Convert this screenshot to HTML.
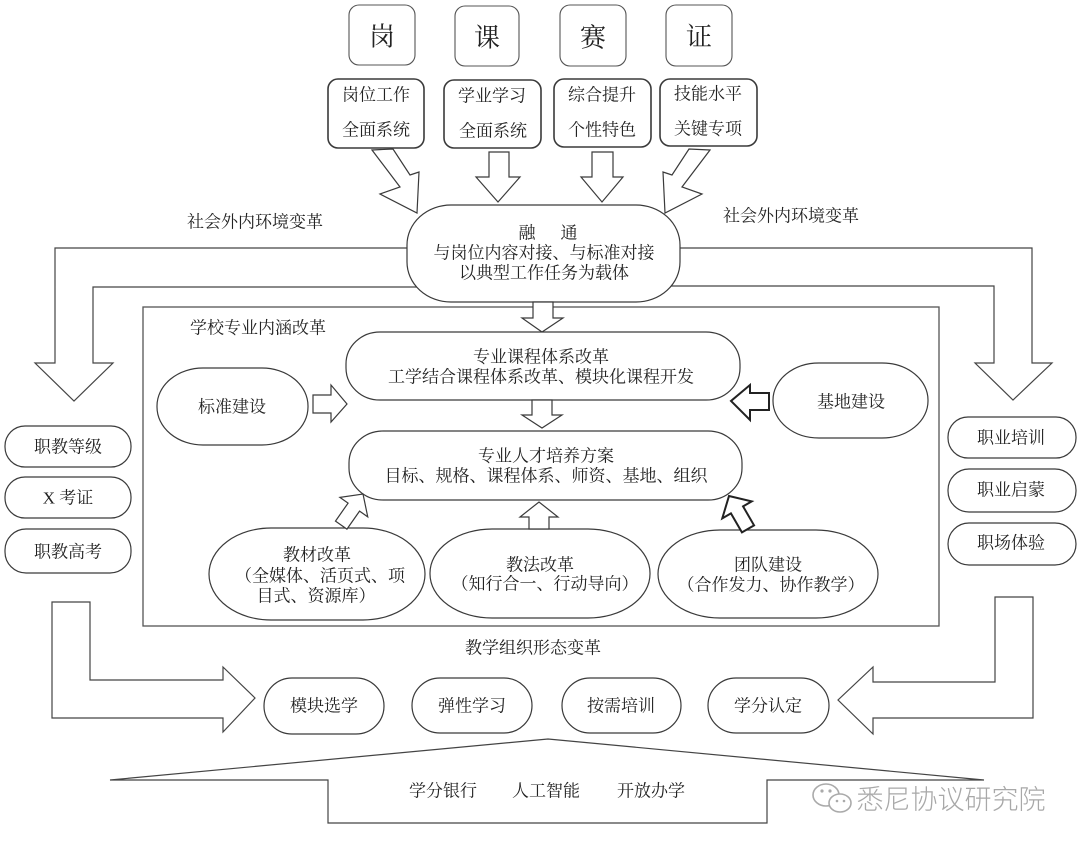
<!DOCTYPE html>
<html>
<head>
<meta charset="utf-8">
<style>
html,body{margin:0;padding:0;background:#fff;}
svg{display:block;}
text{font-family:"Liberation Serif","Noto Serif CJK SC",serif;fill:#222;font-size:17px;}
.c{text-anchor:middle;dominant-baseline:central;}
.s{fill:#fff;stroke:#3a3a3a;stroke-width:1.2;}
.t{fill:#fff;stroke:#555;stroke-width:1.1;}
.b{fill:#fff;stroke:#222;stroke-width:2;}
.l{fill:none;stroke:#444;stroke-width:1.2;}
</style>
</head>
<body>
<svg width="1080" height="845" viewBox="0 0 1080 845" xmlns="http://www.w3.org/2000/svg">
<!-- top char boxes -->
<rect class="t" x="349" y="5" width="66" height="60" rx="10"/>
<rect class="t" x="455" y="6" width="64" height="60" rx="10"/>
<rect class="t" x="560" y="5" width="66" height="61" rx="10"/>
<rect class="t" x="666" y="5" width="66" height="61" rx="10"/>
<text class="c" x="382" y="37" style="font-size:26px">岗</text>
<text class="c" x="487" y="38" style="font-size:26px">课</text>
<text class="c" x="593" y="38" style="font-size:26px">赛</text>
<text class="c" x="699" y="37" style="font-size:26px">证</text>

<!-- second row boxes -->
<rect class="s" x="328" y="79" width="96" height="69" rx="10" style="stroke-width:1.6"/>
<rect class="s" x="444" y="80" width="97" height="68" rx="10" style="stroke-width:1.6"/>
<rect class="s" x="554" y="79" width="97" height="68" rx="10" style="stroke-width:1.6"/>
<rect class="s" x="660" y="79" width="97" height="67" rx="10" style="stroke-width:1.6"/>
<text class="c" x="376" y="95">岗位工作</text>
<text class="c" x="376" y="130">全面系统</text>
<text class="c" x="492" y="96">学业学习</text>
<text class="c" x="493" y="131">全面系统</text>
<text class="c" x="602" y="95">综合提升</text>
<text class="c" x="602" y="130">个性特色</text>
<text class="c" x="708" y="94">技能水平</text>
<text class="c" x="708" y="129">关键专项</text>

<!-- top arrows -->
<polygon class="s" points="372,150 393,149 410,175 419,172 417,213 380,194 400,187"/>
<polygon class="s" points="489,152 509,152 509,177 520,177 498,202 476,177 489,177"/>
<polygon class="s" points="592,152 613,152 613,177 623,177 602,202 581,177 592,177"/>
<polygon class="s" points="710,150 689,149 672,175 663,172 665,213 702,194 682,187"/>

<!-- big side arrows -->
<polygon class="l" points="420,248 55,248 55,363 35,363 74,401 113,363 93,363 93,287 420,287" style="fill:#fff"/>
<polygon class="l" points="667,248 1032,248 1032,363 1052,363 1013,400 975,363 994,363 994,286 667,286" style="fill:#fff"/>

<text x="187" y="222" style="dominant-baseline:central">社会外内环境变革</text>
<text x="723" y="216" style="dominant-baseline:central">社会外内环境变革</text>

<!-- 融通 -->
<rect class="s" x="407" y="205" width="273" height="97" rx="44" ry="40"/>
<text class="c" x="527" y="233">融</text>
<text class="c" x="569" y="233">通</text>
<text class="c" x="544" y="253">与岗位内容对接、与标准对接</text>
<text class="c" x="544" y="273">以典型工作任务为载体</text>

<!-- inner box -->
<rect x="143" y="307" width="796" height="319" fill="none" stroke="#555" stroke-width="1.3"/>
<text x="190" y="328" style="dominant-baseline:central">学校专业内涵改革</text>

<polygon class="s" points="533,302 553,302 553,318 563,318 542,332 522,318 533,318"/>

<rect class="s" x="346" y="332" width="394" height="68" rx="34" ry="32"/>
<text class="c" x="541" y="357">专业课程体系改革</text>
<text class="c" x="541" y="377">工学结合课程体系改革、模块化课程开发</text>

<polygon class="s" points="532,400 552,400 552,415 562,415 542,428 522,415 532,415"/>

<rect class="s" x="349" y="431" width="393" height="69" rx="34" ry="32"/>
<text class="c" x="546" y="456">专业人才培养方案</text>
<text class="c" x="546" y="476">目标、规格、课程体系、师资、基地、组织</text>

<!-- 标准建设 -->
<rect class="s" x="157" y="368" width="151" height="77" rx="46" ry="38"/>
<text class="c" x="232" y="407">标准建设</text>
<polygon class="s" points="313,395 331,395 331,385 347,404 331,422 331,413 313,413"/>

<!-- 基地建设 -->
<rect class="s" x="773" y="363" width="155" height="75" rx="46" ry="37"/>
<text class="c" x="851" y="402">基地建设</text>
<polygon class="b" points="769,393 750,393 750,385 731,401 750,420 750,410 769,410"/>

<!-- bottom inner -->
<rect class="s" x="209" y="528" width="216" height="92" rx="62" ry="46"/>
<text class="c" x="317" y="555">教材改革</text>
<text class="c" x="320" y="576">（全媒体、活页式、项</text>
<text class="c" x="316" y="596">目式、资源库）</text>

<rect class="s" x="430" y="529" width="220" height="89" rx="62" ry="44"/>
<text class="c" x="540" y="565">教法改革</text>
<text class="c" x="545" y="584">（知行合一、行动导向）</text>

<rect class="s" x="658" y="530" width="220" height="88" rx="62" ry="44"/>
<text class="c" x="768" y="565">团队建设</text>
<text class="c" x="771" y="585">（合作发力、协作教学）</text>

<polygon class="s" points="529,529 549,529 549,517 558,517 539,502 520,517 529,517"/>
<g transform="translate(363,494) rotate(35)">
<polygon class="s" points="0,0 17,16 7,16 7,38 -7,38 -7,16 -17,16"/>
</g>
<g transform="translate(729,496) rotate(-30)">
<polygon class="b" points="0,0 17,16 7,16 7,38 -7,38 -7,16 -17,16"/>
</g>

<!-- left pills -->
<rect class="s" x="5" y="426" width="126" height="41" rx="20"/>
<rect class="s" x="5" y="477" width="126" height="41" rx="20"/>
<rect class="s" x="5" y="529" width="126" height="44" rx="21"/>
<text class="c" x="68" y="447">职教等级</text>
<text class="c" x="68" y="498">X 考证</text>
<text class="c" x="68" y="552">职教高考</text>

<!-- right pills -->
<rect class="s" x="948" y="417" width="128" height="41" rx="20"/>
<rect class="s" x="948" y="469" width="128" height="43" rx="21"/>
<rect class="s" x="948" y="523" width="128" height="42" rx="21"/>
<text class="c" x="1011" y="438">职业培训</text>
<text class="c" x="1011" y="490">职业启蒙</text>
<text class="c" x="1011" y="543">职场体验</text>

<text x="465" y="648" style="dominant-baseline:central">教学组织形态变革</text>

<!-- bottom arrows -->
<polygon class="l" points="52,602 90,602 90,680 223,680 223,667 255,698 223,732 223,718 52,718" style="fill:#fff"/>
<polygon class="l" points="1033,597 995,597 995,682 873,682 873,667 838,700 873,734 873,718 1033,718" style="fill:#fff"/>

<!-- bottom pills -->
<rect class="s" x="264" y="678" width="120" height="56" rx="28"/>
<rect class="s" x="412" y="678" width="120" height="55" rx="28"/>
<rect class="s" x="562" y="678" width="119" height="55" rx="28"/>
<rect class="s" x="708" y="678" width="121" height="55" rx="28"/>
<text class="c" x="324" y="706">模块选学</text>
<text class="c" x="472" y="706">弹性学习</text>
<text class="c" x="621" y="706">按需培训</text>
<text class="c" x="768" y="706">学分认定</text>

<!-- bottom trapezoid -->
<polygon class="l" points="110,780 548,739 984,780 767,780 767,823 328,823 328,780" style="fill:#fff"/>
<text class="c" x="443" y="791">学分银行</text>
<text class="c" x="546" y="791">人工智能</text>
<text class="c" x="651" y="791">开放办学</text>

<!-- watermark -->
<g fill="none" stroke="#aaa" stroke-width="1.6">
<ellipse cx="826" cy="795" rx="13" ry="11"/>
<ellipse cx="840" cy="803" rx="11" ry="9" fill="#fff"/>
</g>
<circle cx="822" cy="791" r="1.6" fill="#aaa"/>
<circle cx="830" cy="791" r="1.6" fill="#aaa"/>
<circle cx="837" cy="801" r="1.3" fill="#aaa"/>
<circle cx="844" cy="801" r="1.3" fill="#aaa"/>
<text class="c" x="951" y="800" style="font-family:'Liberation Sans','Noto Sans CJK SC',sans-serif;font-size:27px;fill:#a8a8a8;font-weight:300">悉尼协议研究院</text>
</svg>
</body>
</html>
